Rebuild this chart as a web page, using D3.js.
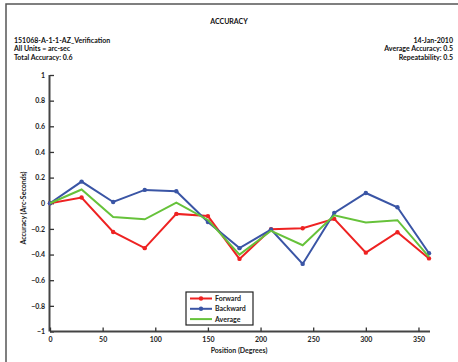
<!DOCTYPE html>
<html><head><meta charset="utf-8">
<script src="https://cdn.jsdelivr.net/npm/d3@7/dist/d3.min.js"></script>
<style>
body{margin:0;background:#fff;}
svg{display:block;font-family:Lato,"Open Sans",sans-serif;font-weight:700;}
</style></head>
<body><svg id="c" width="458" height="362"></svg>
<script>
const positions = [0,30,60,90,120,150,180,210,240,270,300,330,360];
const forward  = [0,0.045,-0.224,-0.35,-0.083,-0.10,-0.434,-0.203,-0.195,-0.122,-0.385,-0.226,-0.43];
const backward = [0,0.169,0.01,0.104,0.094,-0.146,-0.35,-0.205,-0.473,-0.075,0.08,-0.031,-0.39];
const average  = [0,0.107,-0.107,-0.125,0.005,-0.13,-0.40,-0.215,-0.327,-0.094,-0.15,-0.132,-0.418];
const yTicks = [-1,-0.8,-0.6,-0.4,-0.2,0,0.2,0.4,0.6,0.8,1];
const xTicks = [0,50,100,150,200,250,300,350];
const seriesNames = ["Forward","Backward","Average"];
const seriesColors = ["#ee2222","#3a55a5","#66c23a"];
const leftInfo = ["151068-A-1-1-AZ_Verification","All Units = arc-sec","Total Accuracy: 0.6"];
const rightInfo = ["14-Jan-2010","Average Accuracy: 0.5","Repeatability: 0.5"];

const svg = d3.select("#c");
svg.append("rect").attr("x",6).attr("y",4).attr("width",500).attr("height",400)
  .attr("fill","none").attr("stroke","#555").attr("stroke-width",1.5);

svg.append("text").attr("x",229).attr("y",24).attr("text-anchor","middle")
  .attr("font-size",7).attr("fill","#111").text("ACCURACY");
leftInfo.forEach((t,i)=>svg.append("text").attr("x",14).attr("y",42.5+i*8.7)
  .attr("font-size",7).attr("fill","#111").text(t));
rightInfo.forEach((t,i)=>svg.append("text").attr("x",453).attr("y",42.5+i*8.7)
  .attr("text-anchor","end").attr("font-size",7).attr("fill","#111").text(t));

const x = d3.scaleLinear().domain([0,360]).range([50,429]);
const y = d3.scaleLinear().domain([-1,1]).range([331.5,75]);

const yAxis = svg.append("g").attr("transform","translate(50,0)")
  .call(d3.axisLeft(y).tickValues(yTicks).tickSize(-4).tickPadding(5)
    .tickFormat(d=>d===0?"0":d3.format("")(+d.toFixed(1))));
const xAxis = svg.append("g").attr("transform","translate(0,331.5)")
  .call(d3.axisBottom(x).tickValues(xTicks).tickSize(-4).tickPadding(6));
[yAxis,xAxis].forEach(g=>{
  g.select(".domain").attr("stroke","#444").attr("stroke-width",2);
  g.selectAll(".tick line").attr("stroke","#333").attr("stroke-width",1.3);
  g.selectAll("text").attr("font-size",7).attr("fill","#222")
    .attr("font-family","Lato,sans-serif").attr("font-weight",700);
});
yAxis.select(".domain").attr("d","M-0.5,75V331.5");
xAxis.select(".domain").attr("d","M50,0H430");

svg.append("text").attr("transform","translate(26,208) rotate(-90)")
  .attr("text-anchor","middle").attr("font-size",7).attr("fill","#222")
  .text("Accuracy (Arc-Seconds)");
svg.append("text").attr("x",239).attr("y",353).attr("text-anchor","middle")
  .attr("font-size",7).attr("fill","#222").text("Position (Degrees)");

const data = [forward,backward,average];
const line = d3.line().x((d,i)=>x(positions[i])).y(d=>y(d));
data.forEach((vals,k)=>{
  svg.append("path").datum(vals).attr("d",line).attr("fill","none")
    .attr("stroke",seriesColors[k]).attr("stroke-width",2);
  if(k<2){
    svg.selectAll(null).data(vals).enter().append("circle")
      .attr("cx",(d,i)=>x(positions[i])).attr("cy",d=>y(d)).attr("r",2.2)
      .attr("fill",seriesColors[k]);
  }
});

const lg = svg.append("g");
lg.append("rect").attr("x",186).attr("y",292).attr("width",67).attr("height",33)
  .attr("fill","#fff").attr("stroke","#222").attr("stroke-width",1.2);
seriesNames.forEach((n,k)=>{
  const yy = 298.5 + k*10.3;
  lg.append("line").attr("x1",190).attr("x2",212).attr("y1",yy).attr("y2",yy)
    .attr("stroke",seriesColors[k]).attr("stroke-width",2);
  if(k<2) lg.append("circle").attr("cx",201).attr("cy",yy).attr("r",2.2).attr("fill",seriesColors[k]);
  lg.append("text").attr("x",215).attr("y",yy+2.5).attr("font-size",7).attr("fill","#222").text(n);
});
</script></body></html>
